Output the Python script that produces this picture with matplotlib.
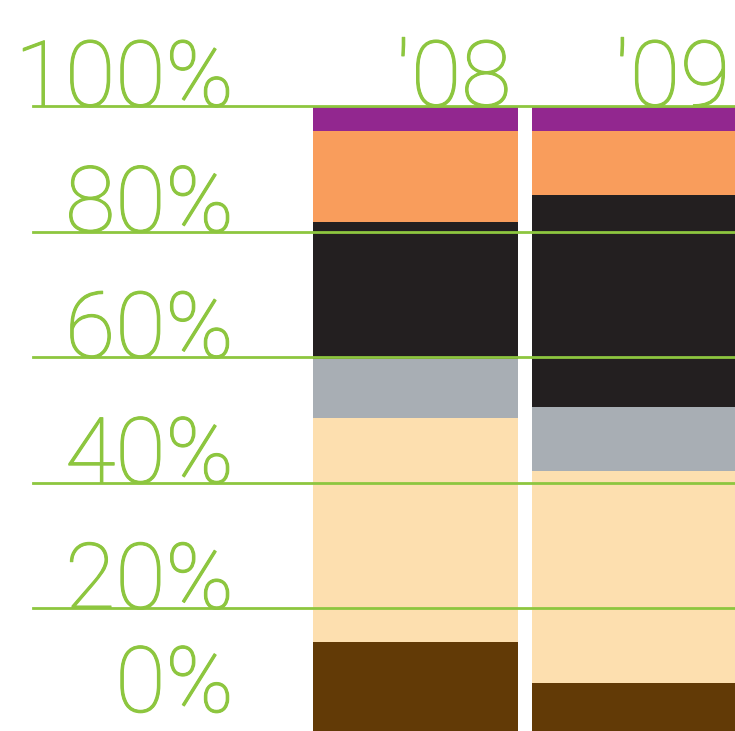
import matplotlib
matplotlib.use('Agg')
import matplotlib.pyplot as plt
import matplotlib.patheffects as pe

years = ["'08", "'09"]
segments = ['brown', 'beige', 'gray', 'black', 'orange', 'purple']
share_08 = [14.6, 35.7, 9.4, 21.8, 14.5, 4.0]
share_09 = [8.1, 33.8, 10.2, 33.7, 10.2, 4.0]
colors = ['#623A06', '#FDDFAF', '#A8AEB4', '#231F20', '#F99D5C', '#92278F']
ticks = [0, 20, 40, 60, 80, 100]
tick_labels = ['0%', '20%', '40%', '60%', '80%', '100%']

green = '#8DC63F'
font = dict(family='Roboto', weight=100, fontsize=66, color=green,
            path_effects=[pe.withStroke(linewidth=0.8, foreground=green)])

fig = plt.figure(figsize=(7.35, 7.31), dpi=100)
ax = fig.add_axes([0, 0, 1, 1])

x = [0, 1]
width = 0.936
bottom = [0, 0]
for i, c in enumerate(colors):
    vals = [share_08[i], share_09[i]]
    ax.bar(x, vals, width, bottom=bottom, color=c, linewidth=0, zorder=1)
    bottom = [bottom[0] + vals[0], bottom[1] + vals[1]]

for t in ticks[1:]:
    ax.axhline(t, xmin=33 / 735, xmax=1, color=green, lw=2.0, zorder=3)

for t, lab in zip(ticks, tick_labels):
    if t == 0:
        # sits on the lower edge, keep the whole text box inside
        ax.text(-0.829, 0.5, lab, ha='right', va='bottom', zorder=4, **font)
    else:
        ax.text(-0.829, t, lab, ha='right', va='baseline', zorder=4, **font)

for xi, yr in zip(x, years):
    ax.text(xi + width / 2 - 0.03, 100, yr, ha='right', va='baseline', zorder=4, **font)

ax.set_xlim(-1.897, 1.459)
ax.set_ylim(0.48, 116.9)
ax.axis('off')

fig.savefig('out.png', dpi=100)
